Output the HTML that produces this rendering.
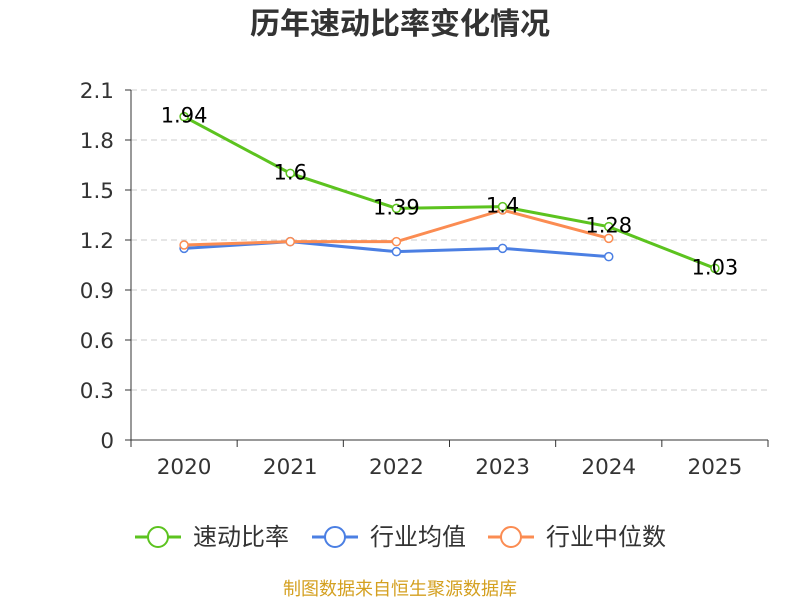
<!DOCTYPE html>
<html><head><meta charset="utf-8"><style>
body{margin:0;background:#fff;}
svg text{font-family:"DejaVu Sans","Noto Sans CJK SC",sans-serif;}
</style></head><body>
<svg id="c" width="800" height="600" xmlns="http://www.w3.org/2000/svg">
<text x="400" y="34" text-anchor="middle" font-size="30" font-weight="bold" fill="#333" style="font-family:'Noto Sans CJK SC',sans-serif">历年速动比率变化情况</text>
<g id="grid"></g><g id="axes"></g><g id="series"></g><g id="legend"></g>
<text x="400" y="595" text-anchor="middle" font-size="18" fill="#d4a020" style="font-family:'Noto Sans CJK SC',sans-serif">制图数据来自恒生聚源数据库</text>
</svg>
<script>
const categories=["2020","2021","2022","2023","2024","2025"];
const quickRatio=[1.94,1.6,1.39,1.4,1.28,1.03];
const industryAvg=[1.15,1.19,1.13,1.15,1.10];
const industryMedian=[1.17,1.19,1.19,1.38,1.21];
const yTicks=[0,0.3,0.6,0.9,1.2,1.5,1.8,2.1];
const seriesNames=["速动比率","行业均值","行业中位数"];
const colors=["#5cc31f","#4b7fe3","#fb8c52"];
const NS="http://www.w3.org/2000/svg";
const L=131,R=768,T=90,B=440,yMax=2.1;
const bw=(R-L)/categories.length;
const x=i=>L+bw*(i+0.5);
const y=v=>B-(v/yMax)*(B-T);
function mk(tag,attrs,parent,text){const e=document.createElementNS(NS,tag);for(const k in attrs)e.setAttribute(k,attrs[k]);if(text!==undefined)e.textContent=text;document.getElementById(parent).appendChild(e);return e;}
yTicks.forEach(t=>{
 if(t>0){const g=mk('line',{x1:L,x2:R,y1:y(t),y2:y(t),stroke:'#ccc','stroke-dasharray':'6,4'},'grid');
 }
 const tk=mk('line',{x1:L-6,x2:L,y1:y(t),y2:y(t),stroke:'#333'},'axes');
 
 const lb=mk('text',{x:L-17,y:y(t)+8,'text-anchor':'end','font-size':21.5,fill:'#333'},'axes',String(t));
 
});
let ya=mk('line',{x1:L,x2:L,y1:T,y2:B,stroke:'#333'},'axes');

let xa=mk('line',{x1:L,x2:R,y1:B,y2:B,stroke:'#333'},'axes');

for(let i=0;i<=categories.length;i++){const t=mk('line',{x1:L+bw*i,x2:L+bw*i,y1:B,y2:B+7,stroke:'#333'},'axes');
 }
categories.forEach((c,i)=>{const t=mk('text',{x:x(i),y:B+34,'text-anchor':'middle','font-size':21.5,fill:'#333'},'axes',c);
 });
function line(data,col,name,labels){
 const p=mk('polyline',{points:data.map((v,i)=>x(i)+','+y(v)).join(' '),fill:'none',stroke:col,'stroke-width':3},'series');
 
 data.forEach((v,i)=>{const c=mk('circle',{cx:x(i),cy:y(v),r:4,fill:'#fff',stroke:col,'stroke-width':1.5},'series');
  
  if(labels){const t=mk('text',{x:x(i),y:y(v)+6,'text-anchor':'middle','font-size':21,fill:'#000'},'series',String(v));
   }});
}
line(industryAvg,colors[1],'industry-avg',false);
line(industryMedian,colors[2],'industry-median',false);
line(quickRatio,colors[0],'quick-ratio',true);
const lx=[135,312,488];
seriesNames.forEach((n,i)=>{
 const g=mk('line',{x1:lx[i],x2:lx[i]+46,y1:537,y2:537,stroke:colors[i],'stroke-width':3},'legend');
 
 const c=mk('circle',{cx:lx[i]+23,cy:537,r:10,fill:'#fff',stroke:colors[i],'stroke-width':2},'legend');
 
 const t=mk('text',{x:lx[i]+58,y:545,'font-size':24,fill:'#333',style:"font-family:'Noto Sans CJK SC',sans-serif"},'legend',n);
 
});
</script>
</body></html>
